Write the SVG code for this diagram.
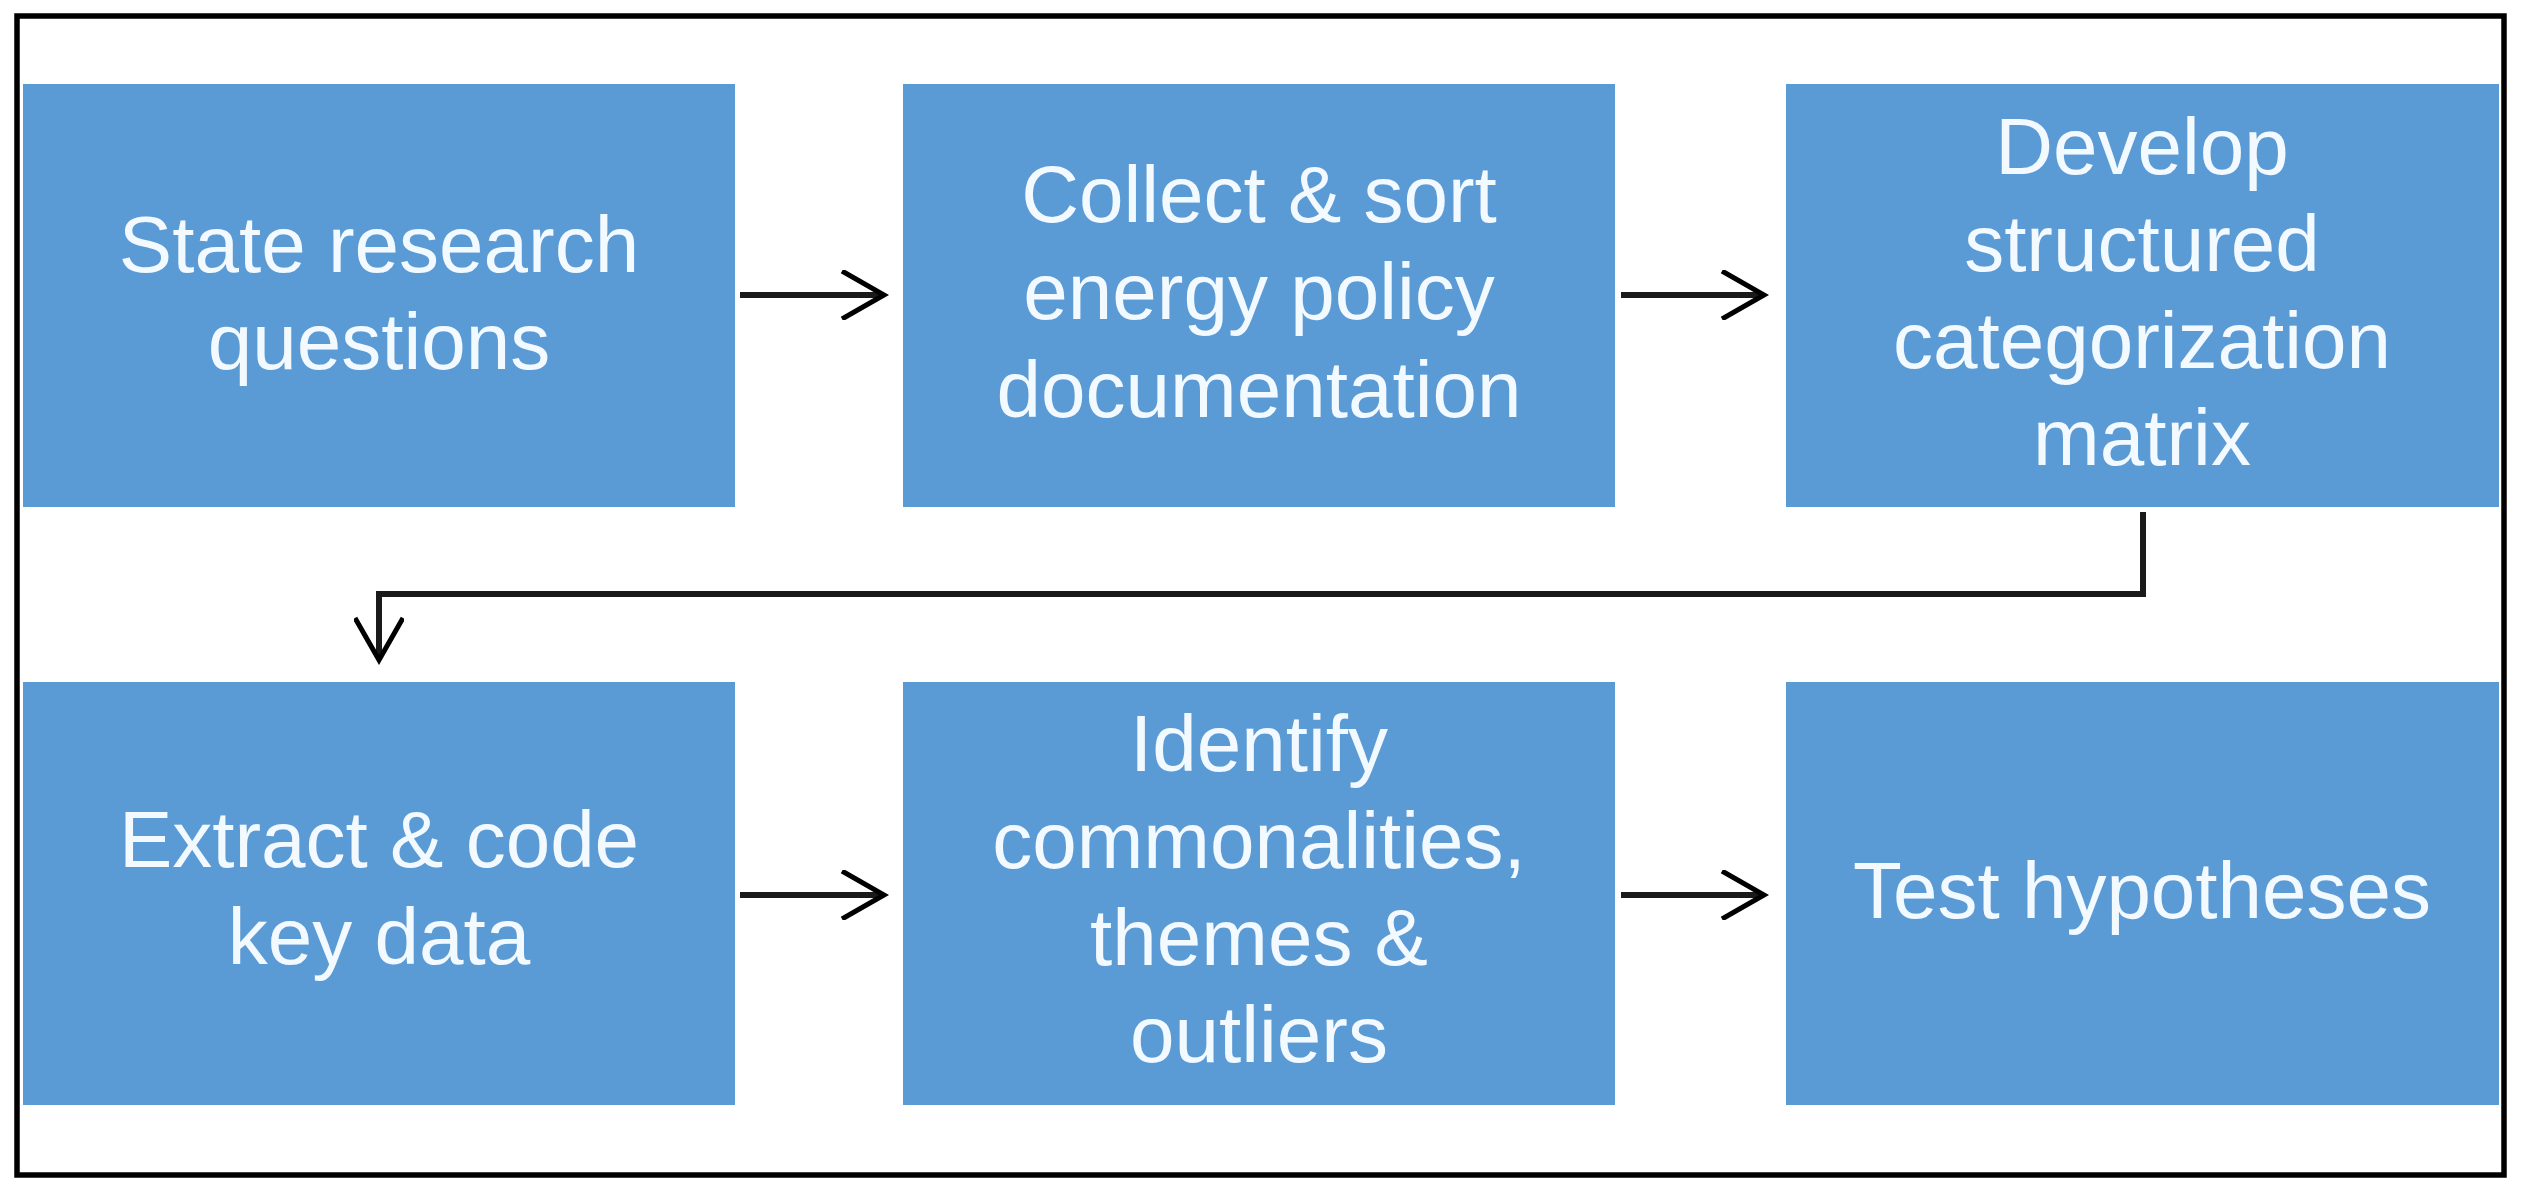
<svg xmlns="http://www.w3.org/2000/svg" width="2523" height="1187" viewBox="0 0 2523 1187">
  <style>
    .box { fill: #5B9BD5; }
    .lbl { font-family: "Liberation Sans", Arial, sans-serif; font-size: 80px; fill: #F2F9FF; text-anchor: middle; }
    .conn { stroke: #1a1a1a; stroke-width: 6; fill: none; }
  </style>
  <defs>
    <marker id="arrow" viewBox="0 0 50 50" refX="45" refY="25" markerWidth="50" markerHeight="50" markerUnits="userSpaceOnUse" orient="auto">
      <path d="M3,1 L45,25 L3,49" fill="none" stroke="#000" stroke-width="5"/>
    </marker>
  </defs>
  <rect x="0" y="0" width="2523" height="1187" fill="#ffffff"/>
  <rect id="frame" x="17" y="16" width="2487" height="1159" fill="none" stroke="#000" stroke-width="5.5"/>

  <g id="n1">
    <rect class="box" x="23" y="84" width="712" height="423"/>
    <text class="lbl" x="379" y="272">State research</text>
    <text class="lbl" x="379" y="369">questions</text>
  </g>
  <g id="n2">
    <rect class="box" x="903" y="84" width="712" height="423"/>
    <text class="lbl" x="1259" y="222">Collect &amp; sort</text>
    <text class="lbl" x="1259" y="319">energy policy</text>
    <text class="lbl" x="1259" y="417">documentation</text>
  </g>
  <g id="n3">
    <rect class="box" x="1786" y="84" width="713" height="423"/>
    <text class="lbl" x="2142" y="174">Develop</text>
    <text class="lbl" x="2142" y="271">structured</text>
    <text class="lbl" x="2142" y="368">categorization</text>
    <text class="lbl" x="2142" y="465">matrix</text>
  </g>
  <g id="n4">
    <rect class="box" x="23" y="682" width="712" height="423"/>
    <text class="lbl" x="379" y="867">Extract &amp; code</text>
    <text class="lbl" x="379" y="964">key data</text>
  </g>
  <g id="n5">
    <rect class="box" x="903" y="682" width="712" height="423"/>
    <text class="lbl" x="1259" y="771">Identify</text>
    <text class="lbl" x="1259" y="868">commonalities,</text>
    <text class="lbl" x="1259" y="965">themes &amp;</text>
    <text class="lbl" x="1259" y="1062">outliers</text>
  </g>
  <g id="n6">
    <rect class="box" x="1786" y="682" width="713" height="423"/>
    <text class="lbl" x="2142" y="918">Test hypotheses</text>
  </g>

  <g id="connectors">
    <line class="conn" x1="740" y1="295" x2="884" y2="295" marker-end="url(#arrow)"/>
    <line class="conn" x1="1621" y1="295" x2="1764" y2="295" marker-end="url(#arrow)"/>
    <polyline class="conn" points="2143,512 2143,594 379,594 379,660" marker-end="url(#arrow)"/>
    <line class="conn" x1="740" y1="895" x2="884" y2="895" marker-end="url(#arrow)"/>
    <line class="conn" x1="1621" y1="895" x2="1764" y2="895" marker-end="url(#arrow)"/>
  </g>
</svg>
